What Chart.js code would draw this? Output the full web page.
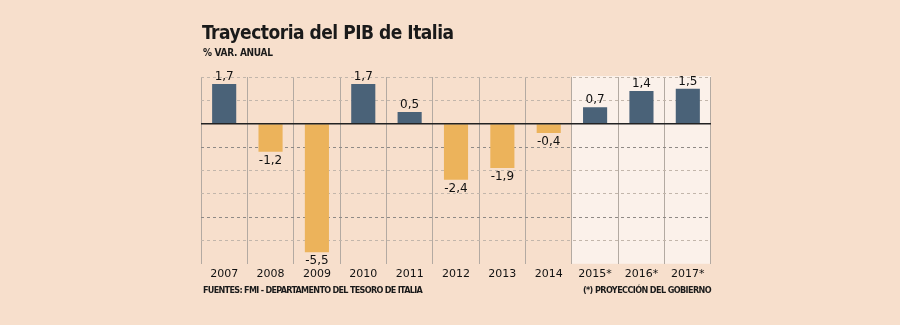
<!DOCTYPE html>
<html>
<head>
<meta charset="utf-8">
<script src="https://cdn.jsdelivr.net/npm/chart.js@4"></script>
<style>
  html, body { margin: 0; padding: 0; background: #f7dfcc; }
  #wrap { position: relative; width: 900px; height: 325px; overflow: hidden; }
  #grafico { position: absolute; left: 0; top: 0; }
  .txt { position: absolute; color: #1a1a1a; white-space: nowrap; }
  #titulo { left: 202px; top: 21px; font: bold 19px "DejaVu Sans Condensed", "DejaVu Sans", sans-serif; letter-spacing: -0.5px; }
  #subtitulo { left: 203px; top: 47px; font: bold 10px "DejaVu Sans Condensed", "DejaVu Sans", sans-serif; letter-spacing: -0.3px; }
  #fuente { left: 203px; top: 285px; font: bold 9px "DejaVu Sans Condensed", sans-serif; letter-spacing: -0.7px; }
  #nota { right: 189px; top: 285px; font: bold 9px "DejaVu Sans Condensed", sans-serif; letter-spacing: -0.6px; }
</style>
</head>
<body>
<div id="wrap">
  <canvas id="grafico" width="900" height="325"></canvas>
  <div class="txt" id="titulo">Trayectoria del PIB de Italia</div>
  <div class="txt" id="subtitulo">% VAR. ANUAL</div>
  <div class="txt" id="fuente">FUENTES: FMI - DEPARTAMENTO DEL TESORO DE ITALIA</div>
  <div class="txt" id="nota">(*) PROYECCIÓN DEL GOBIERNO</div>
</div>
<script>
// datos
const anios = ['2007', '2008', '2009', '2010', '2011', '2012', '2013', '2014', '2015*', '2016*', '2017*'];
const variacion = [1.7, -1.2, -5.5, 1.7, 0.5, -2.4, -1.9, -0.4, 0.7, 1.4, 1.5];
const inicioProyeccion = 8; // índice de 2015*

const colorPos = '#4a6278';
const colorNeg = '#ecb35b';

// fondo claro para los años proyectados
const fondoProyeccion = {
  id: 'fondoProyeccion',
  beforeDraw(chart) {
    const { ctx, chartArea, scales } = chart;
    const x = scales.x;
    const paso = x.getPixelForValue(1) - x.getPixelForValue(0);
    const x0 = x.getPixelForValue(inicioProyeccion) - paso / 2;
    ctx.save();
    ctx.fillStyle = '#fbf1ea';
    ctx.fillRect(x0, chartArea.top - 1, chartArea.right - x0, chartArea.bottom - chartArea.top + 1);
    ctx.restore();
  }
};

// línea del cero y etiquetas de valor
const etiquetas = {
  id: 'etiquetas',
  afterDatasetsDraw(chart) {
    const { ctx, chartArea, scales } = chart;
    const y0 = scales.y.getPixelForValue(0);
    ctx.save();
    ctx.strokeStyle = '#222';
    ctx.lineWidth = 1.5;
    ctx.beginPath();
    ctx.moveTo(chartArea.left, y0);
    ctx.lineTo(chartArea.right, y0);
    ctx.stroke();

    ctx.fillStyle = '#111';
    ctx.font = '12px "DejaVu Sans", sans-serif';
    ctx.textAlign = 'center';
    const meta = chart.getDatasetMeta(0);
    meta.data.forEach((bar, i) => {
      const v = variacion[i];
      const txt = v.toFixed(1).replace('.', ',');
      if (v >= 0) {
        ctx.textBaseline = 'bottom';
        ctx.fillText(txt, bar.x, bar.y - 1);
      } else {
        ctx.textBaseline = 'top';
        ctx.fillText(txt, bar.x, bar.y + 3);
      }
    });
    ctx.restore();
  }
};

new Chart(document.getElementById('grafico'), {
  type: 'bar',
  data: {
    labels: anios,
    datasets: [{
      data: variacion,
      backgroundColor: variacion.map(v => v >= 0 ? colorPos : colorNeg),
      barPercentage: 0.52,
      categoryPercentage: 1
    }]
  },
  options: {
    responsive: false,
    animation: false,
    layout: { padding: { left: 201, right: 189, top: 77, bottom: 40 } },
    plugins: { legend: { display: false }, tooltip: { enabled: false } },
    scales: {
      x: {
        offset: true,
        grid: { offset: true, color: '#b3aaa2', lineWidth: 1, drawTicks: false },
        border: { display: false },
        ticks: { color: '#111', font: { size: 11, family: '"DejaVu Sans", sans-serif' }, padding: 4, maxRotation: 0 }
      },
      y: {
        min: -6,
        max: 2,
        ticks: { display: false, stepSize: 1 },
        grid: {
          drawTicks: false,
          color: ctx => {
            const v = ctx.tick.value;
            if (v === 0 || v === -6) return 'rgba(0,0,0,0)';
            if (v === -1 || v === -4) return '#8f8a86';
            return '#c2b6ab';
          }
        },
        border: { display: false, dash: [3, 3] }
      }
    }
  },
  plugins: [fondoProyeccion, etiquetas]
});
</script>
</body>
</html>
